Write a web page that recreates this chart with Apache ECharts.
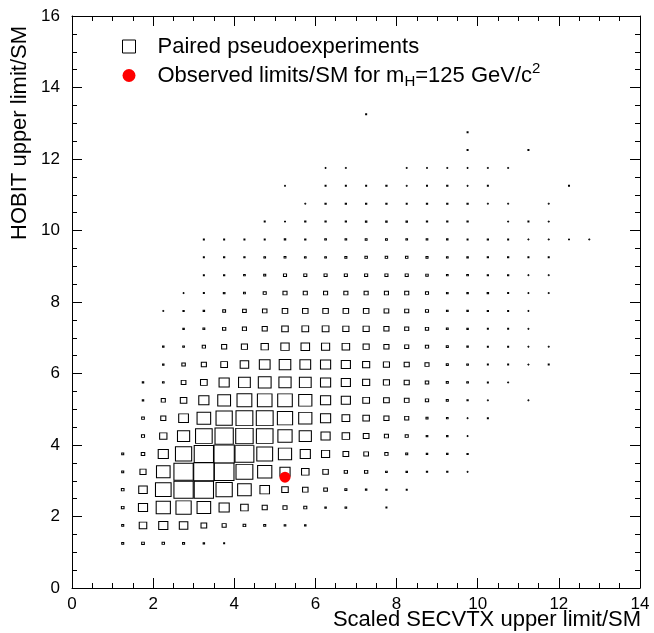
<!DOCTYPE html>
<html>
<head>
<meta charset="utf-8">
<script src="https://cdn.jsdelivr.net/npm/echarts@6/dist/echarts.min.js"></script>
<style>
  html, body { margin: 0; padding: 0; background: #fff; }
  #chart { width: 654px; height: 633px; }
</style>
</head>
<body>
<div id="chart"></div>
<script>
// bin centres of the 2D histogram (0.5 wide bins)
const xCenters = [1.25, 1.75, 2.25, 2.75, 3.25, 3.75, 4.25, 4.75, 5.25, 5.75, 6.25, 6.75,
  7.25, 7.75, 8.25, 8.75, 9.25, 9.75, 10.25, 10.75, 11.25, 11.75, 12.25, 12.75];
const yCenters = [1.25, 1.75, 2.25, 2.75, 3.25, 3.75, 4.25, 4.75, 5.25, 5.75, 6.25, 6.75,
  7.25, 7.75, 8.25, 8.75, 9.25, 9.75, 10.25, 10.75, 11.25, 11.75, 12.25, 12.75, 13.25];

// bin contents (relative, max = 100), one row per y bin, one column per x bin
const binContents = [
  [10, 13, 12, 10, 7, 5, 0, 0, 0, 0, 0, 0, 0, 0, 0, 0, 0, 0, 0, 0, 0, 0, 0, 0],
  [10, 37, 45, 42, 28, 20, 13, 10, 8, 7, 0, 0, 0, 0, 0, 0, 0, 0, 0, 0, 0, 0, 0, 0],
  [13, 45, 70, 75, 67, 50, 37, 25, 20, 15, 7, 8, 0, 5, 0, 0, 0, 0, 0, 0, 0, 0, 0, 0],
  [13, 42, 77, 95, 95, 80, 67, 47, 32, 27, 18, 10, 7, 6, 5, 0, 0, 0, 0, 0, 0, 0, 0, 0],
  [10, 30, 67, 95, 100, 97, 83, 70, 50, 37, 27, 16, 16, 8, 7, 6, 6, 3, 0, 0, 0, 0, 0, 0],
  [10, 17, 50, 80, 95, 100, 93, 78, 65, 50, 40, 28, 23, 16, 10, 7, 7, 6, 0, 0, 0, 0, 0, 0],
  [0, 15, 36, 60, 82, 90, 86, 82, 70, 60, 45, 37, 28, 20, 15, 8, 7, 3, 0, 0, 0, 0, 0, 0],
  [0, 13, 25, 48, 67, 80, 83, 83, 75, 65, 50, 38, 32, 25, 20, 10, 8, 3, 5, 0, 0, 0, 0, 0],
  [0, 7, 20, 32, 50, 63, 73, 72, 72, 65, 50, 45, 33, 28, 23, 16, 10, 6, 2, 0, 2, 0, 0, 0],
  [0, 7, 8, 23, 33, 50, 58, 63, 60, 58, 50, 45, 35, 30, 25, 17, 10, 8, 5, 3, 0, 0, 0, 0],
  [0, 0, 7, 17, 25, 33, 42, 53, 57, 53, 50, 45, 35, 30, 25, 20, 10, 8, 5, 5, 2, 5, 0, 0],
  [0, 0, 7, 8, 16, 25, 30, 36, 41, 42, 40, 37, 30, 25, 20, 16, 10, 7, 5, 5, 2, 2, 0, 0],
  [0, 0, 0, 7, 9, 16, 20, 25, 32, 33, 33, 30, 30, 25, 20, 16, 9, 7, 5, 5, 2, 0, 0, 0],
  [0, 0, 3, 6, 7, 14, 18, 22, 27, 27, 27, 27, 27, 23, 20, 15, 8, 7, 6, 5, 4, 0, 0, 0],
  [0, 0, 0, 3, 5, 8, 9, 15, 20, 20, 20, 20, 20, 20, 20, 15, 8, 7, 7, 5, 4, 2, 0, 0],
  [0, 0, 0, 0, 5, 6, 8, 10, 15, 15, 15, 15, 15, 15, 15, 12, 8, 8, 6, 6, 4, 2, 0, 0],
  [0, 0, 0, 0, 5, 6, 6, 8, 9, 8, 8, 10, 12, 12, 12, 10, 8, 7, 6, 6, 5, 5, 0, 0],
  [0, 0, 0, 0, 5, 5, 5, 5, 7, 6, 8, 8, 9, 9, 8, 8, 7, 5, 6, 5, 4, 4, 4, 3],
  [0, 0, 0, 0, 0, 0, 0, 5, 3, 6, 6, 6, 7, 7, 7, 6, 6, 6, 0, 4, 5, 4, 0, 0],
  [0, 0, 0, 0, 0, 0, 0, 0, 0, 4, 6, 6, 6, 6, 5, 6, 6, 6, 4, 4, 0, 4, 0, 0],
  [0, 0, 0, 0, 0, 0, 0, 0, 3, 0, 5, 5, 5, 6, 4, 5, 6, 4, 5, 0, 0, 0, 5, 0],
  [0, 0, 0, 0, 0, 0, 0, 0, 0, 0, 4, 4, 0, 0, 4, 4, 4, 4, 4, 4, 0, 0, 0, 0],
  [0, 0, 0, 0, 0, 0, 0, 0, 0, 0, 0, 0, 0, 0, 0, 0, 0, 5, 0, 0, 5, 0, 0, 0],
  [0, 0, 0, 0, 0, 0, 0, 0, 0, 0, 0, 0, 0, 0, 0, 0, 0, 5, 0, 0, 0, 0, 0, 0],
  [0, 0, 0, 0, 0, 0, 0, 0, 0, 0, 0, 0, 5, 0, 0, 0, 0, 0, 0, 0, 0, 0, 0, 0],
];

// observed limits/SM for mH = 125
const observedX = [5.25];
const observedY = [3.1];

const xTicks = [0, 2, 4, 6, 8, 10, 12, 14];
const yTicks = [0, 2, 4, 6, 8, 10, 12, 14, 16];

const FONT = '"Liberation Sans", Arial, Helvetica, sans-serif';
const gridLeft = 72, gridRight = 14, gridTop = 16, gridBottom = 45;
const gridW = 654 - gridLeft - gridRight;
const gridH = 633 - gridTop - gridBottom;
const binW = 0.5 * gridW / (xTicks[xTicks.length - 1] - xTicks[0]);
const binH = 0.5 * gridH / (yTicks[yTicks.length - 1] - yTicks[0]);

let boxData = [];
yCenters.forEach(function (y, i) {
  xCenters.forEach(function (x, j) {
    const v = binContents[i][j];
    if (v > 0) boxData.push([x, y, v]);
  });
});
const maxContent = Math.max.apply(null, boxData.map((d) => d[2]));
const observedData = observedX.map((x, i) => [x, observedY[i]]);

const chart = echarts.init(document.getElementById("chart"));

function makeAxis(min, max, interval, position, withLabels) {
  return {
    type: "value",
    min: min,
    max: max,
    interval: interval,
    position: position,
    axisLine: { show: true, onZero: false, lineStyle: { color: "#000", width: 1 } },
    axisTick: { show: true, inside: true, length: 10, lineStyle: { color: "#000" } },
    minorTick: { show: true, splitNumber: 4, length: 5, lineStyle: { color: "#000" } },
    axisLabel: {
      show: withLabels,
      color: "#000",
      fontSize: 17,
      fontFamily: FONT,
      margin: position === "left" ? 12 : 8,
    },
    splitLine: { show: false },
    minorSplitLine: { show: false },
  };
}

chart.setOption({
  animation: false,
  backgroundColor: "#fff",
  grid: { left: gridLeft, right: gridRight, top: gridTop, bottom: gridBottom },
  xAxis: [
    makeAxis(xTicks[0], xTicks[xTicks.length - 1], 2, "bottom", true),
    makeAxis(xTicks[0], xTicks[xTicks.length - 1], 2, "top", false),
  ],
  yAxis: [
    makeAxis(yTicks[0], yTicks[yTicks.length - 1], 2, "left", true),
    makeAxis(yTicks[0], yTicks[yTicks.length - 1], 2, "right", false),
  ],
  legend: {
    orient: "vertical",
    left: 117,
    top: 30,
    itemWidth: 13,
    itemHeight: 13,
    itemGap: 3,
    selectedMode: false,
    textStyle: {
      fontSize: 22,
      fontFamily: FONT,
      color: "#000",
      lineHeight: 23,
      padding: [0, 0, 0, 17],
      rich: {
        a: { fontSize: 22, fontFamily: FONT, color: "#000", lineHeight: 23 },
        sub: { fontSize: 15, fontFamily: FONT, color: "#000", padding: [12, 0, 0, 0] },
        sup: { fontSize: 15, fontFamily: FONT, color: "#000", padding: [0, 0, 14, 0] },
      },
    },
    formatter: function (name) {
      if (name === "Observed") {
        return "{a|Observed limits/SM for m}{sub|H}{a|=125 GeV/c}{sup|2}";
      }
      return "{a|" + name + "}";
    },
    data: [
      {
        name: "Paired pseudoexperiments",
        icon: "rect",
        itemStyle: { color: "rgba(0,0,0,0)", borderColor: "#000", borderWidth: 1 },
      },
      { name: "Observed", icon: "circle", itemStyle: { color: "#ff0000" } },
    ],
  },
  graphic: [
    {
      type: "text",
      x: 641,
      y: 620,
      style: {
        text: "Scaled SECVTX upper limit/SM",
        font: "22px " + FONT,
        fill: "#000",
        align: "right",
        verticalAlign: "middle",
      },
    },
    {
      type: "text",
      x: 19.5,
      y: 26,
      rotation: Math.PI / 2,
      style: {
        text: "HOBIT upper limit/SM",
        font: "22px " + FONT,
        fill: "#000",
        align: "right",
        verticalAlign: "middle",
      },
    },
  ],
  series: [
    {
      name: "Paired pseudoexperiments",
      type: "scatter",
      xAxisIndex: 0,
      yAxisIndex: 0,
      symbol: "rect",
      symbolSize: function (val) {
        const f = val[2] / maxContent;
        return [Math.max(f * binW, 1), Math.max(f * binH, 1)];
      },
      itemStyle: { color: "rgba(0,0,0,0)", borderColor: "#000", borderWidth: 1, opacity: 1 },
      emphasis: { disabled: true },
      data: boxData,
      z: 2,
    },
    {
      name: "Observed",
      type: "scatter",
      xAxisIndex: 0,
      yAxisIndex: 0,
      symbol: "circle",
      symbolSize: 11,
      itemStyle: { color: "#ff0000", opacity: 1 },
      emphasis: { disabled: true },
      data: observedData,
      z: 3,
    },
  ],
});
</script>
</body>
</html>
